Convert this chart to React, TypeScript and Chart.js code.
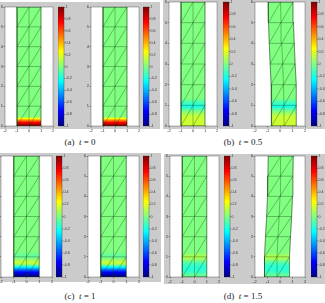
import { useEffect, useRef } from "react";
import { Chart, registerables } from "chart.js";

Chart.register(...registerables);

// ---- mesh and axes ----
const NODE_X = [-1, 0, 1];
const NODE_Y = [0, 1, 2, 3, 4, 5, 6];
const X_TICKS = [-2, -1, 0, 1, 2];
const Y_TICKS = [0, 1, 2, 3, 4, 5, 6];
const BAR_TICKS = [-1, -0.8, -0.6, -0.4, -0.2, 0, 0.2, 0.4, 0.6, 0.8, 1];

// ---- time labels ----
const TIMES = ["0", "0.5", "1", "1.5"];

// ---- field profiles along the column height (y, value) ----
const PROFILE_Y_T0 = [0, 0.08, 0.18, 0.28, 0.38, 0.47, 1.5];
const PROFILE_V_T0 = [1.0, 0.9, 0.75, 0.5, 0.25, 0.0, 0.0];

const PROFILE_Y_T05 = [0, 0.4, 0.55, 0.7, 0.85, 0.95, 1.05, 1.2, 1.35, 1.5];
const PROFILE_V_T05 = [0.15, 0.15, 0.1, 0.0, -0.12, -0.22, -0.16, -0.08, 0.0, 0.0];

const PROFILE_Y_T1 = [0, 0.08, 0.2, 0.3, 0.4, 0.52, 0.62, 0.72, 0.85, 1.0, 1.1, 1.25, 1.5];
const PROFILE_V_T1 = [-1.0, -0.95, -0.8, -0.65, -0.45, -0.2, 0.05, 0.15, 0.05, -0.05, -0.05, 0.0, 0.0];

const PROFILE_Y_T15 = [0, 0.15, 0.3, 0.5, 0.65, 0.8, 0.95, 1.05, 1.2, 1.5];
const PROFILE_V_T15 = [-0.02, -0.08, -0.16, -0.17, -0.12, -0.02, 0.1, 0.08, 0.0, 0.0];

// ---- horizontal nodal displacement per mesh row (deformed configuration) ----
const SHIFT_T0 = [0, 0, 0, 0, 0, 0, 0];
const SHIFT_T05 = [0.33, 0.32, 0.28, 0.21, 0.14, 0.08, 0.04];
const SHIFT_T1 = [0, 0, 0, 0, 0, 0, 0];
const SHIFT_T15 = [-0.24, -0.24, -0.16, -0.07, 0.0, 0.03, 0.06];
const NO_SHIFT = [0, 0, 0, 0, 0, 0, 0];

const X_MIN = -2, X_MAX = 2, Y_MIN = 0, Y_MAX = 6, V_MIN = -1, V_MAX = 1;

// ---- layout ----
const AX_W = 7; // y tick label strip
const AX_H = 7; // x tick label strip
const PAD_T = 3;
const PAD_R = 3;
const CB_LABEL_W = 10;
const FONT_TICK = "'Liberation Sans', Arial, sans-serif";
const EDGE = "rgba(10,55,10,0.65)";

const FIGS = [
  {
    letter: "a", time: TIMES[0], profY: PROFILE_Y_T0, profV: PROFILE_V_T0, shifts: [NO_SHIFT, SHIFT_T0],
    bg: { x: 0, y: 2, w: 160, h: 127 }, cap: { cx: 80, cy: 142 },
    panels: [
      { x: 5, y: 7, w: 48, h: 119, cb: 58 },
      { x: 91, y: 7, w: 48, h: 119, cb: 143 },
    ],
  },
  {
    letter: "b", time: TIMES[1], profY: PROFILE_Y_T05, profV: PROFILE_V_T05, shifts: [NO_SHIFT, SHIFT_T05],
    bg: { x: 163, y: 0, w: 162, h: 129 }, cap: { cx: 243, cy: 142 },
    panels: [
      { x: 169, y: 2, w: 48, h: 124, cb: 223 },
      { x: 255, y: 2, w: 50, h: 124, cb: 311 },
    ],
  },
  {
    letter: "c", time: TIMES[2], profY: PROFILE_Y_T1, profV: PROFILE_V_T1, shifts: [NO_SHIFT, SHIFT_T1],
    bg: { x: 0, y: 153, w: 161, h: 129 }, cap: { cx: 80, cy: 296 },
    panels: [
      { x: 1, y: 156, w: 51, h: 121, cb: 56 },
      { x: 88, y: 156, w: 51, h: 121, cb: 143 },
    ],
  },
  {
    letter: "d", time: TIMES[3], profY: PROFILE_Y_T15, profV: PROFILE_V_T15, shifts: [NO_SHIFT, SHIFT_T15],
    bg: { x: 164, y: 154, w: 161, h: 130 }, cap: { cx: 243, cy: 296 },
    panels: [
      { x: 170, y: 156, w: 49, h: 121, cb: 224 },
      { x: 255, y: 156, w: 50, h: 121, cb: 311 },
    ],
  },
];

// MATLAB-style jet colormap on [-1, 1]
function jet(v: number): string {
  const n = (v - V_MIN) / (V_MAX - V_MIN);
  const c = (k: number) => Math.max(0, Math.min(1, 1.5 - Math.abs(4 * n - k)));
  return `rgb(${Math.round(255 * c(3))},${Math.round(255 * c(2))},${Math.round(255 * c(1))})`;
}

function interp(xs: number[], vs: number[], x: number): number {
  if (x <= xs[0]) return vs[0];
  for (let i = 1; i < xs.length; i++) {
    if (x <= xs[i]) {
      const t = (x - xs[i - 1]) / (xs[i] - xs[i - 1]);
      return vs[i - 1] + t * (vs[i] - vs[i - 1]);
    }
  }
  return vs[vs.length - 1];
}

function columnGradient(chart: any, profY: number[], profV: number[]) {
  const { ctx, chartArea, scales } = chart;
  if (!chartArea) return jet(0);
  const ys = scales.y;
  const p0 = ys.getPixelForValue(Y_MIN);
  const p1 = ys.getPixelForValue(Y_MAX);
  const g = ctx.createLinearGradient(0, p0, 0, p1);
  const yTop = profY[profY.length - 1];
  const steps = 90;
  for (let k = 0; k <= steps; k++) {
    const y = (yTop * k) / steps;
    g.addColorStop((ys.getPixelForValue(y) - p0) / (p1 - p0), jet(interp(profY, profV, y)));
  }
  g.addColorStop(1, jet(profV[profV.length - 1]));
  return g;
}

function barGradient(chart: any) {
  const { ctx, chartArea, scales } = chart;
  if (!chartArea) return jet(0);
  const ys = scales.y;
  const p0 = ys.getPixelForValue(V_MIN);
  const p1 = ys.getPixelForValue(V_MAX);
  const g = ctx.createLinearGradient(0, p0, 0, p1);
  for (let k = 0; k <= 8; k++) {
    const v = V_MIN + ((V_MAX - V_MIN) * k) / 8;
    g.addColorStop(k / 8, jet(v));
  }
  return g;
}

function node(shift: number[], i: number, j: number) {
  return { x: NODE_X[i] + shift[j], y: NODE_Y[j] };
}

function outline(shift: number[]) {
  const nx = NODE_X.length, ny = NODE_Y.length;
  const pts: { x: number; y: number }[] = [];
  for (let i = 0; i < nx; i++) pts.push(node(shift, i, 0));
  for (let j = 1; j < ny; j++) pts.push(node(shift, nx - 1, j));
  for (let i = nx - 2; i >= 0; i--) pts.push(node(shift, i, ny - 1));
  for (let j = ny - 2; j >= 0; j--) pts.push(node(shift, 0, j));
  return pts;
}

// element edges as separate polylines: rows, columns, and the "/" diagonals
function meshEdges(shift: number[]) {
  const nx = NODE_X.length, ny = NODE_Y.length;
  const lines: { x: number; y: number }[][] = [];
  for (let j = 0; j < ny; j++) {
    const row = [];
    for (let i = 0; i < nx; i++) row.push(node(shift, i, j));
    lines.push(row);
  }
  for (let i = 0; i < nx; i++) {
    const col = [];
    for (let j = 0; j < ny; j++) col.push(node(shift, i, j));
    lines.push(col);
  }
  for (let j = 0; j < ny - 1; j++) {
    for (let i = 0; i < nx - 1; i++) {
      lines.push([node(shift, i, j), node(shift, i + 1, j + 1)]);
    }
  }
  return lines;
}

const axesBox = {
  id: "axesBox",
  beforeDraw(chart: any) {
    const { ctx, chartArea: a } = chart;
    ctx.save();
    ctx.fillStyle = "#ffffff";
    ctx.fillRect(a.left, a.top, a.right - a.left, a.bottom - a.top);
    ctx.restore();
  },
  afterDraw(chart: any) {
    const { ctx, chartArea: a } = chart;
    ctx.save();
    ctx.strokeStyle = "rgba(40,40,40,0.7)";
    ctx.lineWidth = 0.5;
    ctx.strokeRect(a.left, a.top, a.right - a.left, a.bottom - a.top);
    ctx.restore();
  },
};

const barBox = {
  id: "barBox",
  afterDraw(chart: any) {
    const { ctx, chartArea: a } = chart;
    ctx.save();
    ctx.strokeStyle = "rgba(40,40,40,0.7)";
    ctx.lineWidth = 0.5;
    ctx.strokeRect(a.left, a.top, a.right - a.left, a.bottom - a.top);
    ctx.restore();
  },
};

function tickFont(size: number) {
  return { size, family: FONT_TICK };
}

function MeshPlot({ p, shift, profY, profV }: any) {
  const ref = useRef<HTMLCanvasElement | null>(null);
  const W = p.w + AX_W + PAD_R;
  const H = p.h + PAD_T + AX_H;
  useEffect(() => {
    // edges sit above the coloured field
    const edgeSets = meshEdges(shift).map((line) => ({
      data: line,
      order: 0,
      showLine: true,
      fill: false,
      borderColor: EDGE,
      borderWidth: 0.5,
      pointRadius: 0,
    }));
    const chart = new Chart(ref.current as HTMLCanvasElement, {
      type: "scatter",
      data: {
        datasets: [
          {
            data: outline(shift),
            order: 1,
            showLine: true,
            fill: "shape",
            backgroundColor: (c: any) => columnGradient(c.chart, profY, profV),
            borderColor: EDGE,
            borderWidth: 0.5,
            pointRadius: 0,
          },
          ...edgeSets,
        ],
      } as any,
      options: {
        animation: false,
        responsive: false,
        events: [],
        layout: { padding: { top: PAD_T, right: PAD_R, left: 0, bottom: 0 } },
        plugins: { legend: { display: false }, tooltip: { enabled: false } },
        scales: {
          x: {
            type: "linear",
            min: X_MIN,
            max: X_MAX,
            afterBuildTicks: (s: any) => { s.ticks = X_TICKS.map((value) => ({ value })); },
            afterFit: (s: any) => { s.height = AX_H; },
            ticks: { font: tickFont(4), color: "#333", padding: 0.5, maxRotation: 0, autoSkip: false },
            grid: { drawOnChartArea: false, tickLength: 1.5, color: "#444", lineWidth: 0.5 },
            border: { display: false },
          },
          y: {
            type: "linear",
            min: Y_MIN,
            max: Y_MAX,
            afterBuildTicks: (s: any) => { s.ticks = Y_TICKS.map((value) => ({ value })); },
            afterFit: (s: any) => { s.width = AX_W; },
            ticks: { font: tickFont(4), color: "#333", padding: 0.5, autoSkip: false },
            grid: { drawOnChartArea: false, tickLength: 1.5, color: "#444", lineWidth: 0.5 },
            border: { display: false },
          },
        },
      } as any,
      plugins: [axesBox],
    });
    return () => chart.destroy();
  }, []);
  return (
    <canvas
      ref={ref}
      width={W}
      height={H}
      style={{ position: "absolute", left: p.x - AX_W, top: p.y - PAD_T, width: W, height: H }}
    />
  );
}

function ColorBar({ p }: any) {
  const ref = useRef<HTMLCanvasElement | null>(null);
  const W = 6 + CB_LABEL_W;
  const H = p.h + 6;
  useEffect(() => {
    const chart = new Chart(ref.current as HTMLCanvasElement, {
      type: "bar",
      data: {
        labels: [""],
        datasets: [
          {
            data: [[V_MIN, V_MAX]],
            backgroundColor: (c: any) => barGradient(c.chart),
            barPercentage: 1,
            categoryPercentage: 1,
            borderWidth: 0,
          },
        ],
      } as any,
      options: {
        animation: false,
        responsive: false,
        events: [],
        layout: { padding: { top: 3, bottom: 3, left: 0, right: 0 } },
        plugins: { legend: { display: false }, tooltip: { enabled: false } },
        scales: {
          x: { display: false },
          y: {
            position: "right",
            min: V_MIN,
            max: V_MAX,
            afterBuildTicks: (s: any) => { s.ticks = BAR_TICKS.map((value) => ({ value })); },
            afterFit: (s: any) => { s.width = CB_LABEL_W; },
            ticks: {
              font: tickFont(3.6),
              color: "#333",
              padding: 0.5,
              autoSkip: false,
              callback: (v: any) => String(Math.round(Number(v) * 10) / 10 || 0),
            },
            grid: { drawOnChartArea: false, tickLength: 1, color: "#444", lineWidth: 0.5 },
            border: { display: false },
          },
        },
      } as any,
      plugins: [barBox],
    });
    return () => chart.destroy();
  }, []);
  return (
    <canvas
      ref={ref}
      width={W}
      height={H}
      style={{ position: "absolute", left: p.cb, top: p.y - 3, width: W, height: H }}
    />
  );
}

export default function App() {
  return (
    <div
      style={{
        position: "absolute",
        left: 0,
        top: 0,
        width: 325,
        height: 303,
        background: "#ffffff",
        overflow: "hidden",
      }}
    >
      {FIGS.map((f) => (
        <div key={f.letter}>
          <div
            style={{
              position: "absolute",
              left: f.bg.x,
              top: f.bg.y,
              width: f.bg.w,
              height: f.bg.h,
              background: "#cbcbcb",
            }}
          />
          {f.panels.map((p, k) => (
            <div key={k}>
              <MeshPlot p={p} shift={f.shifts[k]} profY={f.profY} profV={f.profV} />
              <ColorBar p={p} />
            </div>
          ))}
          <div
            style={{
              position: "absolute",
              left: f.cap.cx - 40,
              top: f.cap.cy - 6,
              width: 80,
              textAlign: "center",
              fontFamily: "'Liberation Serif', 'DejaVu Serif', serif",
              fontSize: 9,
              lineHeight: "12px",
              color: "#222",
              whiteSpace: "pre",
            }}
          >
            ({f.letter}){"  "}
            <i>t</i> = {f.time}
          </div>
        </div>
      ))}
    </div>
  );
}
